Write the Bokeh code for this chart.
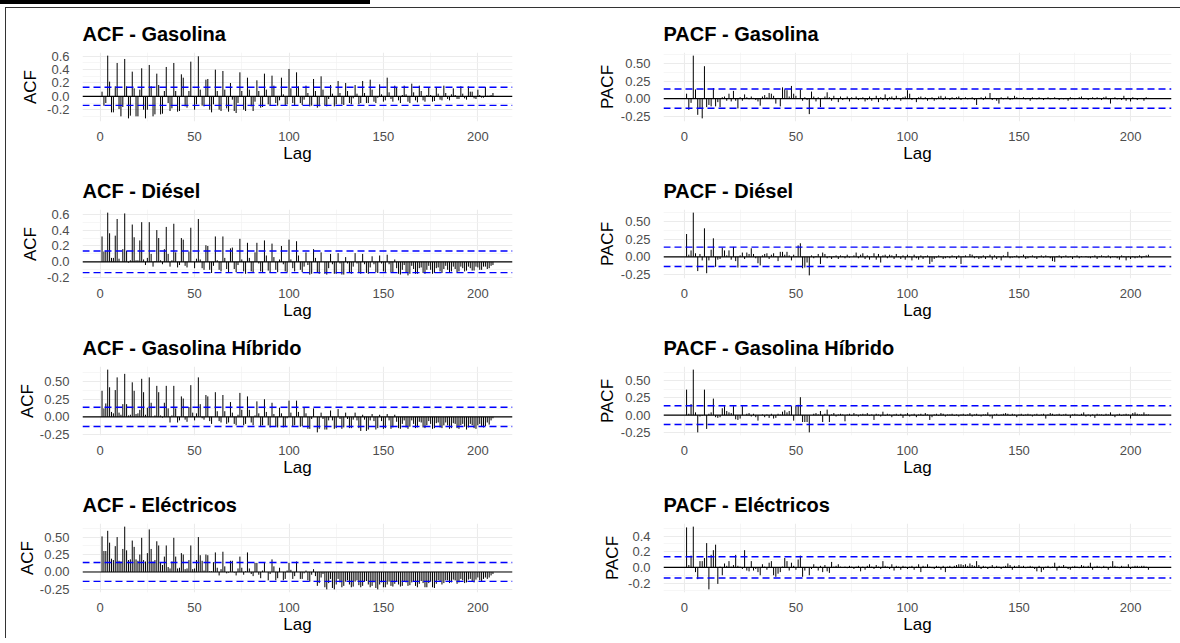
from bokeh.plotting import figure
from bokeh.models import Range1d, FixedTicker, PrintfTickFormatter, Span, Div, ColumnDataSource
from bokeh.layouts import row, column
from bokeh.embed import file_html
from bokeh.resources import INLINE

lags = list(range(1, 209))

acf_gasolina = [
    0.07, -0.14, -0.10, 0.61, 0.22, -0.24, -0.24, 0.15, 0.50, -0.19,
    -0.30, -0.16, 0.56, 0.15, -0.33, -0.29, 0.37, 0.12, -0.30, -0.30,
    0.10, 0.42, -0.20, -0.33, -0.20, 0.47, 0.15, -0.30, -0.27, 0.34,
    0.17, -0.27, -0.26, 0.08, 0.44, -0.10, -0.22, -0.18, 0.50, 0.08,
    -0.23, -0.22, 0.33, 0.28, -0.15, -0.17, 0.08, 0.52, 0.00, -0.20,
    -0.12, 0.60, 0.10, -0.14, -0.15, 0.25, 0.26, -0.20, -0.24, -0.12,
    0.40, 0.08, -0.20, -0.22, 0.38, 0.10, -0.18, -0.23, 0.20, -0.05,
    -0.22, -0.25, -0.10, 0.36, 0.08, -0.20, -0.22, 0.28, 0.10, -0.15,
    -0.22, -0.08, 0.24, 0.08, -0.17, -0.16, 0.34, 0.10, -0.12, -0.14,
    0.31, 0.16, -0.10, -0.14, -0.06, 0.28, 0.03, -0.14, -0.12, 0.41,
    0.12, -0.10, -0.13, 0.36, 0.15, -0.10, -0.13, -0.05, 0.16, 0.05,
    -0.15, -0.14, 0.26, 0.08, -0.17, -0.15, 0.30, 0.10, -0.14, -0.15,
    -0.04, 0.17, 0.04, -0.15, -0.12, 0.23, 0.05, -0.12, -0.13, 0.20,
    0.08, -0.10, -0.12, -0.03, 0.17, 0.04, -0.12, -0.10, 0.23, 0.05,
    -0.10, -0.10, 0.25, 0.10, -0.08, -0.10, -0.02, 0.18, 0.03, -0.08,
    -0.06, 0.28, 0.06, -0.04, -0.08, 0.16, 0.14, -0.06, -0.10, 0.02,
    0.16, 0.03, -0.08, -0.10, 0.19, 0.06, -0.06, -0.09, 0.16, 0.08,
    -0.06, -0.08, 0.02, 0.13, 0.02, -0.08, -0.07, 0.14, 0.04, -0.05,
    -0.06, 0.16, 0.05, -0.04, -0.06, 0.03, 0.12, 0.02, -0.04, -0.04,
    0.15, 0.04, -0.03, -0.05, 0.15, 0.07, 0.07, -0.03, -0.04, 0.10,
    0.02, -0.02, -0.02, 0.14, 0.01, 0.01, 0.02, 0.05,
]

acf_diesel = [
    0.32, 0.13, 0.14, 0.62, 0.36, 0.05, 0.05, 0.33, 0.54, 0.04,
    0.00, 0.16, 0.61, 0.14, -0.01, 0.02, 0.47, 0.31, 0.02, 0.02,
    0.27, 0.50, 0.03, -0.04, 0.05, 0.50, 0.10, -0.06, 0.01, 0.40,
    0.30, 0.02, -0.03, 0.16, 0.44, 0.10, -0.06, 0.02, 0.48, 0.12,
    -0.07, -0.04, 0.30, 0.28, -0.05, -0.07, 0.13, 0.43, 0.00, -0.08,
    0.04, 0.54, 0.03, -0.08, -0.10, 0.21, 0.20, -0.10, -0.14, -0.05,
    0.32, 0.02, -0.10, -0.12, 0.32, 0.05, -0.09, -0.13, 0.17, 0.18,
    -0.09, -0.13, -0.04, 0.29, 0.03, -0.12, -0.15, 0.24, 0.05, -0.12,
    -0.14, 0.12, 0.24, -0.02, -0.12, -0.13, 0.27, 0.08, -0.11, -0.14,
    0.23, 0.06, -0.10, -0.13, 0.03, 0.20, -0.03, -0.12, -0.13, 0.28,
    0.03, -0.08, -0.12, 0.26, 0.08, -0.10, -0.13, -0.06, 0.12, -0.04,
    -0.16, -0.15, 0.16, 0.05, -0.14, -0.15, 0.12, 0.00, -0.15, -0.16,
    -0.08, 0.10, -0.03, -0.15, -0.15, 0.11, -0.02, -0.16, -0.16, 0.06,
    -0.02, -0.14, -0.15, -0.06, 0.11, -0.02, -0.13, -0.15, 0.10, -0.03,
    -0.14, -0.15, -0.07, 0.07, -0.03, -0.13, -0.14, 0.08, -0.02, -0.12,
    -0.13, 0.09, -0.03, -0.13, -0.14, 0.03, -0.08, -0.15, -0.16, -0.10,
    -0.04, -0.14, -0.17, -0.15, -0.05, -0.09, -0.15, -0.15, -0.08, -0.07,
    -0.14, -0.15, -0.10, -0.05, -0.10, -0.15, -0.14, -0.08, -0.07, -0.12,
    -0.14, -0.09, -0.05, -0.10, -0.13, -0.12, -0.06, -0.09, -0.13, -0.12,
    -0.06, -0.08, -0.12, -0.11, -0.06, -0.08, -0.11, -0.11, -0.06, -0.07,
    -0.10, -0.10, -0.06, -0.06, -0.09, -0.08, -0.05, -0.04,
]

acf_hibrido = [
    0.37, 0.12, 0.19, 0.67, 0.42, 0.07, 0.05, 0.38, 0.56, 0.06,
    0.03, 0.18, 0.61, 0.18, 0.02, 0.03, 0.49, 0.37, 0.04, 0.05,
    0.10, 0.54, 0.35, 0.03, 0.13, 0.56, 0.20, 0.00, 0.02, 0.44,
    0.35, 0.02, -0.01, 0.20, 0.44, 0.12, -0.08, 0.02, 0.44, 0.12,
    -0.08, -0.05, 0.29, 0.26, -0.04, -0.07, 0.14, 0.45, 0.06, -0.05,
    0.05, 0.56, 0.18, -0.02, -0.04, 0.31, 0.29, -0.06, -0.10, 0.00,
    0.35, 0.08, -0.06, -0.08, 0.31, 0.08, -0.10, -0.08, 0.21, 0.06,
    -0.10, -0.12, 0.03, 0.34, 0.10, -0.12, -0.10, 0.29, 0.10, -0.08,
    -0.12, 0.02, 0.22, 0.05, -0.14, -0.12, 0.25, 0.07, -0.12, -0.15,
    0.20, 0.04, -0.13, -0.15, 0.13, 0.05, -0.15, -0.13, -0.02, 0.23,
    0.06, -0.13, -0.12, 0.23, 0.07, -0.14, -0.13, 0.13, 0.05, -0.17,
    -0.17, -0.03, 0.12, 0.00, -0.22, -0.17, 0.06, -0.03, -0.18, -0.18,
    -0.05, 0.09, -0.05, -0.17, -0.16, 0.11, -0.03, -0.17, -0.15, 0.06,
    -0.03, -0.16, -0.16, -0.04, 0.06, -0.05, -0.16, -0.20, 0.03, -0.04,
    -0.20, -0.18, -0.05, 0.04, -0.06, -0.18, -0.16, 0.03, -0.06, -0.17,
    -0.16, 0.04, -0.05, -0.17, -0.15, 0.03, -0.07, -0.16, -0.17, -0.10,
    -0.05, -0.15, -0.17, -0.14, -0.05, -0.10, -0.16, -0.15, -0.07, -0.08,
    -0.15, -0.16, -0.12, -0.06, -0.10, -0.17, -0.16, -0.09, -0.08, -0.15,
    -0.16, -0.12, -0.08, -0.12, -0.17, -0.16, -0.09, -0.10, -0.16, -0.17,
    -0.12, -0.10, -0.14, -0.18, -0.15, -0.10, -0.12, -0.16, -0.17, -0.12,
    -0.10, -0.14, -0.15, -0.13, -0.08, -0.11, -0.05, -0.02,
]

acf_electricos = [
    0.51, 0.30, 0.30, 0.59, 0.42, 0.19, 0.17, 0.37, 0.50, 0.16,
    0.15, 0.33, 0.65, 0.31, 0.17, 0.18, 0.45, 0.36, 0.18, 0.16,
    0.25, 0.49, 0.17, 0.15, 0.27, 0.61, 0.33, 0.15, 0.17, 0.44,
    0.38, 0.14, 0.10, 0.22, 0.38, 0.07, 0.05, 0.15, 0.49, 0.22,
    0.05, 0.06, 0.27, 0.25, 0.04, 0.05, 0.17, 0.38, 0.04, 0.05,
    0.17, 0.50, 0.24, 0.16, 0.02, 0.25, 0.24, 0.01, 0.01, 0.14,
    0.28, 0.06, -0.05, 0.04, 0.29, 0.08, -0.02, -0.01, 0.16, 0.16,
    -0.01, -0.05, 0.05, 0.22, 0.06, -0.04, 0.01, 0.28, 0.05, -0.03,
    -0.06, 0.13, 0.13, -0.04, -0.09, 0.02, 0.14, 0.00, -0.12, -0.03,
    0.18, 0.08, -0.12, -0.09, 0.06, 0.00, -0.12, -0.10, 0.02, 0.13,
    0.03, -0.10, -0.06, 0.15, 0.00, -0.10, -0.10, -0.02, 0.02, -0.12,
    -0.14, -0.04, 0.04, -0.06, -0.20, -0.16, -0.08, -0.03, -0.22, -0.25,
    -0.16, -0.10, -0.23, -0.25, -0.18, -0.10, -0.15, -0.22, -0.20, -0.14,
    -0.12, -0.18, -0.22, -0.21, -0.14, -0.12, -0.19, -0.22, -0.20, -0.14,
    -0.13, -0.18, -0.22, -0.20, -0.15, -0.23, -0.25, -0.18, -0.15, -0.22,
    -0.22, -0.18, -0.14, -0.20, -0.21, -0.17, -0.13, -0.18, -0.21, -0.20,
    -0.14, -0.15, -0.20, -0.19, -0.15, -0.13, -0.20, -0.22, -0.17, -0.13,
    -0.16, -0.22, -0.22, -0.16, -0.14, -0.22, -0.23, -0.17, -0.12, -0.14,
    -0.18, -0.16, -0.12, -0.12, -0.16, -0.15, -0.11, -0.12, -0.17, -0.15,
    -0.10, -0.12, -0.16, -0.15, -0.11, -0.10, -0.14, -0.15, -0.11, -0.08,
    -0.12, -0.14, -0.10, -0.08, -0.10, -0.08, -0.05, -0.03,
]

pacf_gasolina = [
    0.07, -0.16, -0.06, 0.61, 0.13, -0.23, -0.14, -0.28, 0.46, -0.12,
    -0.09, -0.11, 0.15, -0.11, -0.05, -0.12, 0.02, 0.03, -0.03, 0.07,
    -0.04, 0.11, -0.03, -0.14, 0.02, -0.03, 0.06, 0.02, -0.01, 0.03,
    0.01, -0.02, -0.04, -0.10, 0.03, 0.05, 0.02, 0.08, 0.07, 0.04,
    -0.07, 0.01, -0.11, 0.16, 0.13, 0.12, 0.03, 0.18, 0.07, 0.04,
    0.00, 0.13, -0.03, 0.02, -0.02, -0.22, 0.10, 0.03, -0.04, 0.02,
    -0.12, 0.01, 0.03, 0.09, 0.02, -0.03, 0.04, 0.01, -0.05, 0.03,
    -0.02, 0.01, 0.03, -0.04, 0.02, 0.00, 0.03, -0.02, 0.01, 0.02,
    -0.04, -0.02, 0.03, -0.03, 0.01, 0.04, -0.05, 0.02, -0.02, 0.06,
    -0.03, 0.02, 0.03, -0.02, 0.04, 0.01, -0.03, 0.02, 0.03, 0.12,
    0.07, -0.02, 0.01, -0.05, 0.02, 0.03, -0.01, 0.02, -0.03, 0.01,
    0.02, -0.03, -0.01, 0.03, 0.04, -0.02, 0.03, 0.01, -0.02, 0.02,
    -0.01, 0.02, 0.03, -0.02, 0.01, 0.02, -0.01, 0.01, 0.02, -0.02,
    -0.09, 0.01, 0.02, -0.02, 0.03, 0.01, 0.08, -0.02, 0.01, -0.03,
    -0.07, 0.02, -0.01, 0.01, 0.03, -0.02, -0.01, 0.04, 0.02, 0.01,
    0.00, 0.02, -0.01, 0.01, -0.03, 0.02, 0.01, -0.01, 0.02, 0.01,
    -0.02, 0.01, 0.02, -0.01, 0.00, 0.02, 0.01, -0.02, 0.01, -0.01,
    0.01, -0.03, 0.02, 0.01, -0.01, 0.00, 0.02, 0.03, -0.01, 0.01,
    -0.02, 0.01, 0.02, -0.01, 0.02, 0.01, -0.02, 0.02, 0.03, -0.01,
    -0.07, 0.01, 0.02, -0.01, 0.00, -0.02, 0.04, -0.03, 0.01, -0.04,
    0.02, 0.01, -0.02, 0.00, 0.01, -0.03, 0.02, 0.01,
]

pacf_diesel = [
    0.32, 0.03, 0.09, 0.62, 0.05, -0.20, 0.04, -0.05, 0.40, -0.23,
    -0.05, 0.10, 0.26, -0.14, -0.04, -0.03, 0.13, 0.09, 0.02, 0.09,
    -0.04, 0.14, -0.06, -0.15, 0.02, 0.06, -0.03, 0.06, 0.04, 0.12,
    0.04, -0.02, -0.09, -0.12, 0.02, 0.04, 0.05, -0.03, 0.03, 0.05,
    0.01, -0.06, 0.07, 0.07, 0.03, 0.07, 0.02, -0.05, 0.03, 0.01,
    0.16, 0.19, -0.16, -0.15, -0.08, -0.26, 0.02, -0.02, 0.01, 0.04,
    -0.10, 0.06, 0.04, -0.02, 0.01, -0.03, 0.01, 0.02, -0.03, 0.02,
    0.01, -0.02, 0.03, -0.01, 0.00, 0.02, 0.06, -0.02, 0.03, 0.05,
    -0.03, 0.02, -0.04, 0.01, 0.05, -0.04, 0.04, -0.08, 0.02, 0.03,
    -0.02, 0.03, 0.02, -0.03, 0.04, 0.01, -0.03, 0.02, -0.04, 0.03,
    0.01, -0.05, 0.03, -0.02, -0.04, 0.02, -0.03, 0.01, 0.02, -0.10,
    -0.07, -0.03, -0.01, 0.02, 0.01, -0.03, -0.02, 0.01, -0.02, 0.02,
    0.01, -0.03, 0.02, -0.10, 0.01, 0.02, 0.00, 0.04, 0.03, -0.02,
    0.01, -0.03, -0.02, 0.02, -0.03, 0.01, 0.03, -0.04, 0.02, -0.03,
    0.01, -0.05, 0.02, 0.01, 0.07, -0.02, -0.01, 0.01, 0.02, -0.02,
    0.01, 0.03, -0.03, -0.02, 0.01, 0.02, -0.01, -0.03, 0.01, 0.02,
    -0.01, 0.02, 0.01, -0.02, -0.06, -0.07, 0.01, 0.02, -0.02, 0.01,
    0.02, -0.01, 0.01, -0.03, 0.01, 0.02, -0.02, 0.01, 0.00, 0.01,
    -0.01, -0.02, 0.01, 0.02, -0.03, 0.01, 0.02, 0.01, -0.01, 0.02,
    -0.02, 0.01, 0.01, -0.02, -0.04, 0.02, 0.01, -0.05, 0.01, -0.03,
    0.01, -0.02, -0.01, 0.02, -0.02, 0.01, 0.02, 0.03,
]

pacf_hibrido = [
    0.37, 0.02, 0.16, 0.66, 0.04, -0.25, -0.02, -0.01, 0.37, -0.20,
    0.02, 0.04, 0.24, -0.03, -0.04, -0.03, 0.10, 0.13, 0.06, 0.04,
    0.03, 0.13, -0.06, -0.07, -0.05, 0.13, 0.00, 0.02, 0.03, -0.02,
    0.02, -0.03, -0.08, 0.00, 0.01, -0.03, 0.01, -0.04, 0.02, -0.05,
    -0.04, 0.02, 0.01, 0.05, 0.07, 0.04, 0.06, 0.13, -0.08, 0.13,
    0.15, 0.26, -0.10, -0.10, -0.10, -0.25, 0.00, 0.02, 0.03, 0.01,
    0.06, -0.10, 0.02, 0.08, -0.10, 0.01, 0.03, -0.02, 0.01, 0.02,
    0.01, -0.09, 0.01, 0.02, -0.01, 0.03, 0.01, -0.02, 0.01, 0.02,
    0.01, 0.03, -0.01, 0.01, -0.07, 0.02, 0.01, -0.02, 0.05, -0.01,
    0.02, 0.01, -0.03, 0.01, 0.02, -0.01, 0.02, -0.04, 0.01, 0.03,
    -0.02, 0.01, 0.02, -0.03, 0.01, 0.02, -0.01, 0.03, 0.01, -0.07,
    -0.03, 0.01, 0.02, -0.01, 0.03, 0.02, -0.02, 0.01, 0.01, 0.02,
    -0.01, 0.01, -0.02, 0.01, 0.02, -0.01, 0.01, 0.03, -0.02, 0.01,
    0.02, -0.01, -0.02, 0.01, 0.01, 0.04, -0.02, -0.05, 0.01, 0.02,
    -0.01, 0.01, 0.02, 0.03, 0.02, -0.01, 0.02, 0.01, -0.03, 0.01,
    0.02, -0.01, 0.01, 0.02, 0.01, -0.02, 0.01, 0.02, -0.01, 0.01,
    0.02, -0.05, 0.01, 0.03, 0.02, -0.01, 0.01, 0.02, -0.01, 0.01,
    0.02, -0.01, -0.04, 0.01, 0.02, 0.01, -0.01, 0.02, 0.04, -0.02,
    0.01, -0.02, 0.01, -0.04, 0.02, 0.01, 0.01, -0.01, 0.02, 0.01,
    0.04, -0.01, -0.03, 0.01, 0.02, -0.01, 0.01, 0.02, 0.01, -0.05,
    0.03, 0.04, 0.02, 0.01, 0.01, 0.04, 0.01, 0.01,
]

pacf_electricos = [
    0.51, 0.03, 0.15, 0.52, -0.06, -0.15, 0.08, 0.08, 0.12, 0.31,
    -0.28, 0.16, 0.22, 0.29, -0.21, 0.01, -0.10, 0.05, 0.02, 0.08,
    0.01, 0.03, 0.16, 0.02, 0.01, -0.02, 0.22, -0.04, -0.05, 0.08,
    -0.04, -0.02, -0.06, -0.10, 0.04, 0.01, -0.03, 0.06, 0.08, -0.10,
    -0.12, -0.08, -0.06, 0.01, 0.12, 0.08, -0.04, 0.06, 0.02, -0.03,
    0.10, 0.15, -0.12, -0.04, 0.00, -0.10, -0.02, 0.04, 0.01, -0.04,
    0.02, -0.06, 0.03, -0.05, -0.07, 0.07, 0.01, 0.02, 0.04, 0.01,
    0.00, 0.01, -0.01, 0.02, 0.01, -0.02, 0.01, 0.02, -0.05, 0.01,
    -0.03, 0.02, 0.04, 0.01, -0.02, 0.03, 0.01, -0.02, 0.08, 0.02,
    0.01, -0.02, 0.04, -0.04, 0.02, 0.01, -0.03, 0.02, 0.01, -0.02,
    0.01, 0.02, -0.03, 0.01, 0.04, -0.06, 0.02, 0.01, 0.04, 0.01,
    -0.01, -0.02, 0.02, 0.01, -0.03, 0.02, -0.06, 0.01, 0.02, -0.01,
    0.02, 0.03, 0.04, 0.04, 0.03, 0.04, 0.02, 0.05, 0.03, 0.02,
    0.08, 0.03, -0.02, 0.02, 0.01, -0.02, 0.01, 0.03, -0.01, 0.02,
    0.01, -0.02, 0.01, 0.02, 0.05, 0.03, -0.03, 0.02, 0.01, 0.03,
    0.01, 0.02, -0.01, 0.01, 0.02, 0.01, -0.02, -0.05, 0.02, -0.06,
    -0.03, 0.01, 0.02, -0.01, 0.01, 0.06, -0.04, 0.02, 0.01, 0.03,
    0.01, -0.02, -0.03, 0.01, 0.02, 0.01, -0.01, 0.03, 0.02, 0.01,
    0.02, 0.06, -0.03, 0.01, 0.02, 0.01, -0.01, 0.02, 0.01, -0.03,
    0.01, 0.08, 0.02, 0.01, -0.01, 0.02, 0.01, 0.01, 0.04, -0.02,
    0.01, 0.02, 0.02, 0.01, 0.02, 0.02, 0.01, -0.03,
]

ci_limit = 0.136

x_ticks = [0, 50, 100, 150, 200]
x_minor_ticks = [25, 75, 125, 175]
y_ticks_tenths = [-0.2, 0.0, 0.2, 0.4, 0.6]
y_ticks_quarters = [-0.25, 0.0, 0.25, 0.5]
y_ticks_small = [-0.2, 0.0, 0.2, 0.4]

FONT = "Liberation Sans"

for s in (acf_gasolina, acf_diesel, acf_hibrido, acf_electricos,
          pacf_gasolina, pacf_diesel, pacf_hibrido, pacf_electricos):
    assert len(s) == len(lags), len(s)


def midpoints(ticks):
    step = ticks[1] - ticks[0]
    return [ticks[0] - step / 2] + [t + step / 2 for t in ticks]


def make_panel(title, ylab, vals, yticks, fmt, left, label_standoff):
    lo = min(min(vals), -ci_limit)
    hi = max(max(vals), ci_limit)
    pad = (hi - lo) * 0.05
    xpad = (lags[-1] - lags[0]) * 0.05
    p = figure(
        frame_width=430 if left else 508, frame_height=69,
        x_range=Range1d(lags[0] - xpad, lags[-1] + xpad),
        y_range=Range1d(lo - pad, hi + pad),
        output_backend="svg", toolbar_location=None,
        min_border_left=76 if left else 72,
        min_border_right=79 if left else 9,
        min_border_top=44, min_border_bottom=44,
        title=title,
    )
    p.outline_line_color = None
    p.background_fill_color = "white"
    p.border_fill_color = "white"

    p.title.text_font = FONT
    p.title.text_font_size = "20px"
    p.title.text_font_style = "bold"
    p.title.text_color = "black"
    p.title.align = "left"
    p.title.standoff = 15

    p.xaxis.ticker = FixedTicker(ticks=x_ticks, minor_ticks=x_minor_ticks)
    p.yaxis.ticker = FixedTicker(ticks=yticks, minor_ticks=midpoints(yticks))
    p.yaxis.formatter = PrintfTickFormatter(format=fmt)

    p.axis.axis_line_color = None
    p.axis.major_tick_line_color = None
    p.axis.minor_tick_line_color = None
    p.axis.major_label_text_font = FONT
    p.axis.major_label_text_font_size = "13px"
    p.axis.major_label_text_color = "#4D4D4D"
    p.axis.axis_label_text_font = FONT
    p.axis.axis_label_text_font_size = "17px"
    p.axis.axis_label_text_font_style = "normal"
    p.axis.axis_label_text_color = "black"

    p.xaxis.axis_label = "Lag"
    p.xaxis.major_label_standoff = 4
    p.xaxis.axis_label_standoff = 0
    p.yaxis.axis_label = ylab
    p.yaxis.major_label_standoff = 7
    p.yaxis.axis_label_standoff = label_standoff

    p.grid.grid_line_color = "#EBEBEB"
    p.grid.grid_line_width = 1.1
    p.grid.minor_grid_line_color = "#F2F2F2"
    p.grid.minor_grid_line_width = 0.7

    src = ColumnDataSource(dict(lag=lags, val=vals))
    p.add_layout(Span(location=0, dimension="width", line_color="black", line_width=1.1))
    p.segment(x0="lag", y0=0, x1="lag", y1="val", source=src, line_color="black", line_width=1)
    for c in (ci_limit, -ci_limit):
        p.add_layout(Span(location=c, dimension="width", line_color="blue",
                          line_width=1.4, line_dash="7 4"))
    return p


panels = [
    (make_panel("ACF - Gasolina", "ACF", acf_gasolina, y_ticks_tenths, "%.1f", True, 4),
     make_panel("PACF - Gasolina", "PACF", pacf_gasolina, y_ticks_quarters, "%.2f", False, 1)),
    (make_panel("ACF - Diésel", "ACF", acf_diesel, y_ticks_tenths, "%.1f", True, 4),
     make_panel("PACF - Diésel", "PACF", pacf_diesel, y_ticks_quarters, "%.2f", False, 1)),
    (make_panel("ACF - Gasolina Híbrido", "ACF", acf_hibrido, y_ticks_quarters, "%.2f", True, 0),
     make_panel("PACF - Gasolina Híbrido", "PACF", pacf_hibrido, y_ticks_quarters, "%.2f", False, 1)),
    (make_panel("ACF - Eléctricos", "ACF", acf_electricos, y_ticks_quarters, "%.2f", True, 0),
     make_panel("PACF - Eléctricos", "PACF", pacf_electricos, y_ticks_small, "%.1f", False, 3)),
]

top_bar = Div(
    text="",
    width=1180, height=8, margin=0,
    styles={
        "background-image": "linear-gradient(#000000, #000000), linear-gradient(#333333, #333333)",
        "background-size": "370px 4px, 1175px 1.5px",
        "background-position": "0px 0px, 5px 6.5px",
        "background-repeat": "no-repeat",
    },
)
left_bar = Div(
    text="",
    width=6, height=630, margin=0,
    styles={
        "background-image": "linear-gradient(#333333, #333333)",
        "background-size": "1.5px 630px",
        "background-position": "5px 0px",
        "background-repeat": "no-repeat",
    },
)

grid = column(*[row(a, b) for a, b in panels])
layout = column(top_bar, row(left_bar, grid))

with open("out.html", "w") as f:
    f.write(file_html(layout, INLINE))
